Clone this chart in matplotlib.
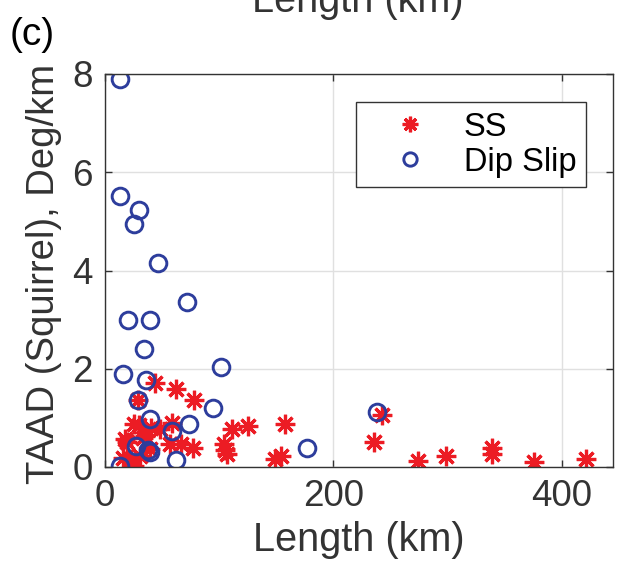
#!/usr/bin/env python3
"""Panel (c): TAAD (Squirrel) vs rupture length, SS and dip-slip events."""

import matplotlib
matplotlib.use("Agg")
import matplotlib.pyplot as plt

# strike-slip events: length (km), TAAD (deg/km)
ss_length = [44, 62, 78, 29, 25, 58.5, 48, 111, 125, 158,
             17.5, 33.5, 57, 67, 77.5, 104, 107, 105, 23, 25,
             16, 31, 39.5, 19, 35, 30, 40, 149, 154, 236,
             243, 274, 299, 339, 339, 376, 421]
ss_taad = [1.70, 1.59, 1.37, 1.36, 0.87, 0.90, 0.77, 0.77, 0.84, 0.88,
           0.56, 0.60, 0.46, 0.46, 0.39, 0.46, 0.26, 0.35, 0.16, 0.02,
           0.19, 0.22, 0.37, 0.50, 0.63, 0.85, 0.80, 0.17, 0.22, 0.50,
           1.05, 0.12, 0.22, 0.38, 0.27, 0.11, 0.17]

# dip-slip events
ds_length = [13, 13, 29.5, 25, 46, 71.5, 20.5, 39, 34, 102,
             15.5, 36, 29, 95, 39, 74, 59, 27, 38, 39,
             62, 13, 177, 238]
ds_taad = [7.90, 5.51, 5.23, 4.95, 4.15, 3.36, 3.00, 3.00, 2.41, 2.03,
           1.89, 1.78, 1.37, 1.21, 0.97, 0.88, 0.73, 0.43, 0.35, 0.30,
           0.14, 0.02, 0.39, 1.11]

RED = "#ec1c24"
BLUE = "#2d3d9c"
AX_GRAY = "#333333"

plt.rcParams["font.family"] = ["Liberation Sans", "DejaVu Sans"]

fig = plt.figure(figsize=(6.18, 5.63), dpi=100)
ax = fig.add_axes([105 / 618, 1 - 467 / 563, 508 / 618, 393 / 563])

ax.plot(ss_length, ss_taad, linestyle="none", marker=(8, 2, 0),
        markersize=14, markeredgewidth=2.3, color=RED, label="SS")
ax.plot(ds_length, ds_taad, linestyle="none", marker="o",
        markersize=12, markeredgewidth=2.1, markerfacecolor="none",
        markeredgecolor=BLUE, label="Dip Slip")

ax.set_xlim(0, 445)
ax.set_ylim(0, 8)
ax.set_xticks([0, 200, 400])
ax.set_yticks([0, 2, 4, 6, 8])
ax.grid(True, color="#e0e0e0", linewidth=1.0)
ax.set_axisbelow(True)
for side in ["top", "right", "bottom", "left"]:
    ax.spines[side].set_color(AX_GRAY)
    ax.spines[side].set_linewidth(1.0)
ax.tick_params(axis="both", direction="in", length=5, width=1.0,
               colors=AX_GRAY, labelsize=26.5, top=True, right=True, pad=9)

ax.set_xlabel("Length (km)", fontsize=28.5, color=AX_GRAY, labelpad=5)
ax.set_ylabel("TAAD (Squirrel), Deg/km", fontsize=27.5, color=AX_GRAY)
ax.yaxis.set_label_coords((62 - 105) / 508, 0.49)

leg = ax.legend(loc="upper left", bbox_to_anchor=(356 / 618, 1 - 102 / 563),
                bbox_transform=fig.transFigure, borderaxespad=0, fontsize=23.5,
                fancybox=False, framealpha=1, edgecolor=AX_GRAY,
                handletextpad=0.3, borderpad=0.3, labelspacing=0.12,
                handlelength=2.7, markerscale=0.8)
leg.get_frame().set_linewidth(1.0)

# panel label and the cut-off axis label of the panel above
fig.text(10 / 618, 1 - 45 / 563, "(c)", fontsize=28, color="black")
fig.text(358 / 618, 1 - 12 / 563, "Length (km)", fontsize=28.5, color=AX_GRAY,
         ha="center", va="baseline")

fig.savefig("out.png", dpi=100)
